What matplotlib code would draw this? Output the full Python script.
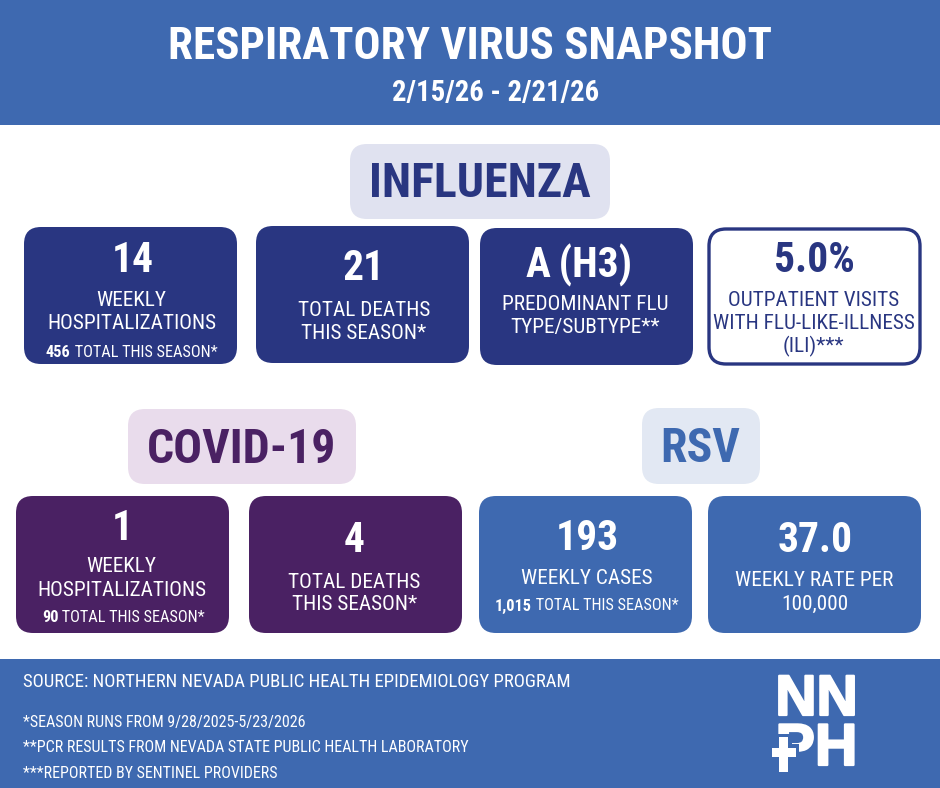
import matplotlib
matplotlib.use('Agg')
import matplotlib.pyplot as plt
import matplotlib.patheffects as pe
from matplotlib.patches import FancyBboxPatch, Rectangle

NARROW = ['Roboto Condensed', 'Liberation Sans Narrow', 'DejaVu Sans']
plt.rcParams['font.family'] = NARROW

BLUE = '#3e69b0'
NAVY = '#293681'
PURPLE = '#4a2163'

title = 'RESPIRATORY VIRUS SNAPSHOT'
dates = '2/15/26 - 2/21/26'

big_numbers = ['14', '21', 'A\u2009(H3)', '5.0%', '1', '4', '193', '37.0']
card_labels = ['WEEKLY\nHOSPITALIZATIONS', 'TOTAL DEATHS\nTHIS SEASON*',
               'PREDOMINANT FLU\nTYPE/SUBTYPE**',
               'OUTPATIENT VISITS\nWITH FLU-LIKE-ILLNESS\n(ILI)***',
               'WEEKLY\nHOSPITALIZATIONS', 'TOTAL DEATHS\nTHIS SEASON*',
               'WEEKLY CASES', 'WEEKLY RATE PER\n100,000']
season_totals = ['456', None, None, None, '90', None, '1,015', None]
season_suffix = ' TOTAL THIS SEASON*'

source_lines = ['SOURCE: NORTHERN NEVADA PUBLIC HEALTH EPIDEMIOLOGY PROGRAM',
                '*SEASON RUNS FROM 9/28/2025-5/23/2026',
                '**PCR RESULTS FROM NEVADA STATE PUBLIC HEALTH LABORATORY',
                '***REPORTED BY SENTINEL PROVIDERS']

# layout, in pixels: x0, y0, x1, y1, number y, first label y
cards = [(24, 227, 237, 364, 261, 300),
         (256, 226, 469, 363, 269, 310),
         (480, 228, 693, 365, 265, 304),
         (709, 229, 920, 364, 261, 300),
         (16, 496, 229, 633, 529, 567),
         (249, 496, 462, 633, 541, 582),
         (479, 496, 692, 633, 538, 579),
         (708, 496, 921, 633, 541, 581)]
card_colors = [NAVY, NAVY, NAVY, 'white', PURPLE, PURPLE, BLUE, BLUE]
total_y = [352, None, None, None, 618, None, 606, None]
# small horizontal nudges off the card centre
number_dx = [2, 1, -7, 0, 0, -1, 2, 1]
label_dx = [1, 1.5, -1, -1, -1, -1, 1.5, 0]


def px(size):
    # pixel height to points at dpi 100
    return size * 0.72


def round_box(ax, x0, y0, x1, y1, color, edge='none', lw=0, r=17):
    box = FancyBboxPatch((x0 + r, y0 + r), x1 - x0 - 2 * r, y1 - y0 - 2 * r,
                         boxstyle='round,pad=%d,rounding_size=%d' % (r, r),
                         fc=color, ec=edge, lw=lw)
    ax.add_patch(box)


def mixed_total(ax, fig, xc, y, bold, rest, color, size):
    # bold count followed by regular text, centred together
    rend = fig.canvas.get_renderer()
    a = ax.text(0, y, bold, fontsize=size, fontweight='bold', color=color,
                va='center', ha='left')
    b = ax.text(0, y, rest, fontsize=size, color=color, va='center', ha='left')
    wa = a.get_window_extent(rend).width
    wb = b.get_window_extent(rend).width
    left = xc - (wa + wb) / 2
    a.set_x(left)
    b.set_x(left + wa)


fig = plt.figure(figsize=(9.4, 7.88), dpi=100)
ax = fig.add_axes([0, 0, 1, 1])
ax.set_xlim(0, 940)
ax.set_ylim(788, 0)
ax.axis('off')

# header and footer bands
ax.add_patch(Rectangle((0, 0), 940, 125, fc=BLUE, ec='none'))
ax.add_patch(Rectangle((0, 659), 940, 129, fc=BLUE, ec='none'))
ax.text(470, 47, title, color='white', fontsize=px(45), fontweight='bold',
        ha='center', va='center')
ax.text(495.5, 93, dates, color='white', fontsize=px(28.7), fontweight='bold',
        ha='center', va='center')

# section headings
round_box(ax, 350, 144, 610, 219, '#e0e2f0', r=17)
ax.text(480, 184, 'INFLUENZA', color=NAVY, fontsize=px(47.8), fontweight='bold',
        ha='center', va='center')
round_box(ax, 128, 409, 356, 484, '#e9dcec', r=17)
ax.text(242, 450, 'COVID-19', color=PURPLE, fontsize=px(47.8), fontweight='bold',
        ha='center', va='center')
round_box(ax, 642, 408, 760, 484, '#e2e8f3', r=17)
ax.text(700, 449, 'RSV', color=BLUE, fontsize=px(47.8), fontweight='bold',
        ha='center', va='center')

# cards
for i, (x0, y0, x1, y1, ny, ly) in enumerate(cards):
    outlined = card_colors[i] == 'white'
    if outlined:
        round_box(ax, x0, y0, x1, y1, 'white', edge=NAVY, lw=2.4)
    else:
        round_box(ax, x0, y0, x1, y1, card_colors[i])
    fg = NAVY if outlined else 'white'
    xc = (x0 + x1) / 2
    ax.text(xc + number_dx[i], ny, big_numbers[i], color=fg, fontsize=px(41.5),
            fontweight='bold', ha='center', va='center')
    for j, line in enumerate(card_labels[i].split('\n')):
        ax.text(xc + label_dx[i], ly + j * 23, line, color=fg, fontsize=px(21.3),
                ha='center', va='center')
    if season_totals[i]:
        mixed_total(ax, fig, xc + 1, total_y[i], season_totals[i], season_suffix,
                    fg, px(16.2))

# footer text
for line, y, s in zip(source_lines, [682, 722, 747, 773], [18.78, 16, 16, 16]):
    ax.text(23, y, line, color='white', fontsize=px(s), ha='left', va='center')

# logo
heavy = [pe.withStroke(linewidth=1.6, foreground='white')]
ax.text(816.5, 700, 'NN', color='white', fontsize=px(57), fontweight='bold',
        family=['Liberation Sans', 'DejaVu Sans'], ha='center', va='center',
        path_effects=heavy)
ax.text(816.5, 749.5, 'PH', color='white', fontsize=px(59), fontweight='bold',
        family=['Liberation Sans', 'DejaVu Sans'], ha='center', va='center',
        path_effects=heavy)
ax.add_patch(Rectangle((775, 734), 17, 42, fc=BLUE, ec='none', zorder=5))
ax.add_patch(Rectangle((769, 744), 30, 17, fc=BLUE, ec='none', zorder=5))
ax.add_patch(Rectangle((779, 737), 9, 35, fc='white', ec='none', zorder=6))
ax.add_patch(Rectangle((772, 748), 24, 9, fc='white', ec='none', zorder=6))

fig.savefig('out.png', dpi=100)
